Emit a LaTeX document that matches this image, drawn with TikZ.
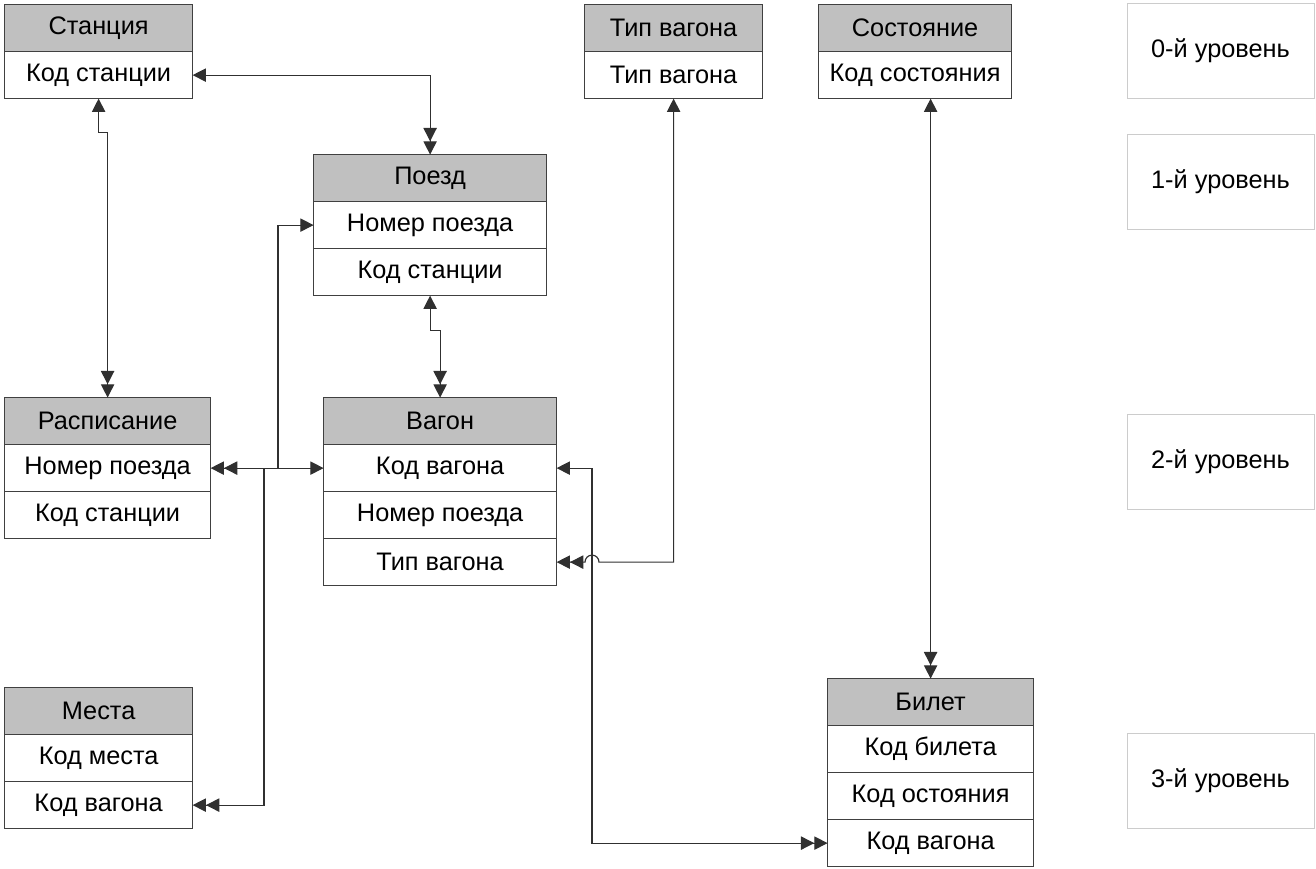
\documentclass[tikz,border=0pt]{standalone}
\usepackage{fontspec}
\setmainfont{Liberation Sans}
\usetikzlibrary{matrix, arrows.meta, calc}

\definecolor{boxline}{HTML}{404040}
\definecolor{headgray}{HTML}{C0C0C0}
\definecolor{levelline}{HTML}{CCCCCC}
\definecolor{linkline}{HTML}{303030}

\tikzset{
  cell/.style={draw=boxline, line width=0.9pt, inner sep=0pt, outer sep=0pt,
    minimum height=35.25pt, anchor=center, font=\fontsize{19}{23}\selectfont},
  head/.style={fill=headgray},
  entity/.style={matrix of nodes, inner sep=0pt, outer sep=0pt, row sep=-0.9pt,
    anchor=north west, nodes={cell, minimum width=#1}},
  level/.style={draw=levelline, line width=0.75pt, minimum width=140.25pt,
    minimum height=71.25pt, inner sep=0pt, font=\fontsize{19}{23}\selectfont},
  link/.style={draw=linkline, line width=0.9pt},
  onemany/.style={link, {Triangle[length=10pt,width=10pt]}-{Triangle[length=10pt,width=10pt] Triangle[length=10pt,width=10pt]}},
}

\begin{document}
\begin{tikzpicture}[x=0.75pt, y=-0.75pt]
    \useasboundingbox (0,0) rectangle (1316,868);
    % 0-й уровень
    \matrix[entity=141pt] (stanciya) at (4,4) {
        |[head]| Станция \\
        Код станции \\
    };
    \matrix[entity=133.5pt] (tip) at (584,4) {
        |[head]| Тип вагона \\
        Тип вагона \\
    };
    \matrix[entity=144.75pt] (sost) at (818,4) {
        |[head]| Состояние \\
        Код состояния \\
    };
    % 1-й уровень
    \matrix[entity=174.75pt] (poezd) at (313,154) {
        |[head]| Поезд \\
        Номер поезда \\
        Код станции \\
    };
    % 2-й уровень
    \matrix[entity=154.5pt] (raspis) at (4,397) {
        |[head]| Расписание \\
        Номер поезда \\
        Код станции \\
    };
    \matrix[entity=174.75pt] (vagon) at (323,397) {
        |[head]| Вагон \\
        Код вагона \\
        Номер поезда \\
        Тип вагона \\
    };
    % 3-й уровень
    \matrix[entity=141pt] (mesta) at (4,687) {
        |[head]| Места \\
        Код места \\
        Код вагона \\
    };
    \matrix[entity=154.5pt] (bilet) at (827,678) {
        |[head]| Билет \\
        Код билета \\
        Код остояния \\
        Код вагона \\
    };
    % Уровни
    \node[level] (lvl0) at (1220.5,50.5) {0-й уровень};
    \node[level] (lvl1) at (1220.5,182) {1-й уровень};
    \node[level] (lvl2) at (1220.5,462) {2-й уровень};
    \node[level] (lvl3) at (1220.5,780.5) {3-й уровень};
    % Связи
    \coordinate (j1) at (278,0);
    \coordinate (j2) at (264,0);
    \coordinate (j3) at (592,0);
    \draw[onemany] (stanciya-2-1.east) -| (poezd-1-1.north);
    \draw[onemany] (stanciya-2-1.south) -- ++(0,34) -| (raspis-1-1.north);
    \draw[onemany] (poezd-3-1.south) -- ++(0,35) -| (vagon-1-1.north);
    \draw[onemany] (poezd-2-1.west) -- (poezd-2-1.west -| j1) |- (raspis-2-1.east);
    \draw[onemany] (vagon-2-1.west) -- (vagon-2-1.west -| j2) |- (mesta-3-1.east);
    \draw[onemany] (vagon-2-1.east) -- (vagon-2-1.east -| j3) |- (bilet-4-1.west);
    \draw[onemany] (tip-2-1.south) |- ($(vagon-4-1.east -| j3)+(7,0)$)
        arc[start angle=0, end angle=180, radius=5.25pt] -- (vagon-4-1.east);
    \draw[onemany] (sost-2-1.south -| bilet-1-1.north) -- (bilet-1-1.north);
\end{tikzpicture}
\end{document}
